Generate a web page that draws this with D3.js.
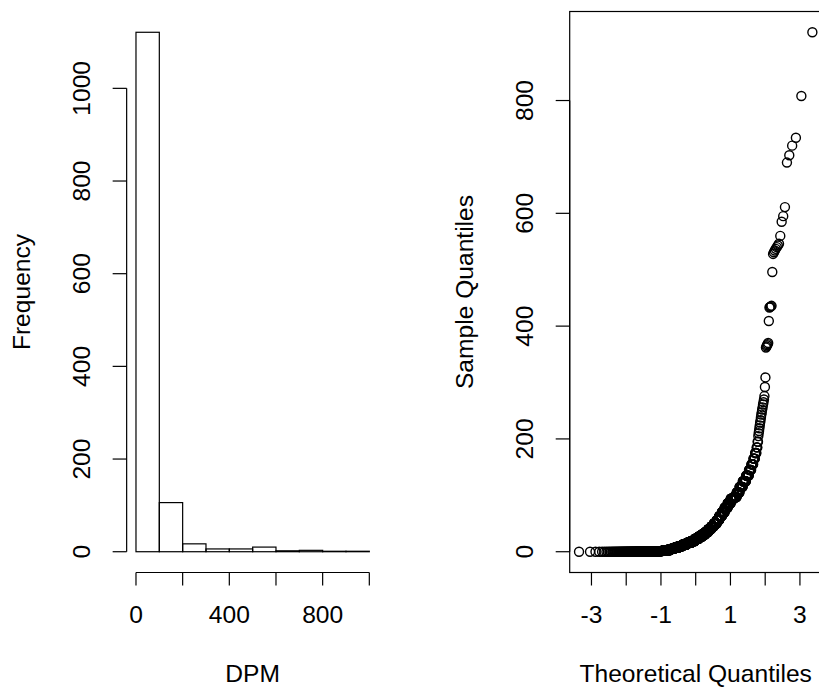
<!DOCTYPE html>
<html>
<head>
<meta charset="utf-8">
<script src="https://cdn.jsdelivr.net/npm/d3@7"></script>
<style>
  body { margin: 0; background: #fff; }
  svg text { font-family: "Liberation Sans", Arial, sans-serif; font-size: 24.6px; fill: #000; }
</style>
</head>
<body>
<svg id="chart" width="819" height="689"></svg>
<script>
// histogram of DPM
const histBreaks = [0, 100, 200, 300, 400, 500, 600, 700, 800, 900, 1000];
const histCounts = [1121, 106, 17, 6, 6, 10, 2, 3, 1, 1];
const histXTicks = [0, 200, 400, 600, 800, 1000];
const histXLabels = [0, 400, 800];
const histYTicks = [0, 200, 400, 600, 800, 1000];

// normal QQ plot: DPM sample as a frequency table (body) plus single tail values
const qqBodyValues = [0, 1, 2, 3, 5, 7, 10, 13, 16, 19, 23, 27, 31, 35, 40, 45, 50, 56, 63, 70, 78, 86, 94, 97,
                      105, 115, 125, 135, 145, 155, 165, 175, 185, 195];
const qqBodyCounts = [150, 60, 45, 40, 45, 50, 60, 60, 60, 55, 55, 50, 45, 40, 40, 35, 35, 30, 30, 30, 30, 28, 26, 22,
                      20, 20, 18, 14, 10, 8, 6, 5, 3, 2];
const qqTailValues = [205, 210, 214, 219, 224, 229, 233, 238, 243, 247, 252, 256, 261, 265, 270, 276, 292,
                      309, 362, 364, 366, 368, 370,
                      409, 433, 434, 435, 436, 496,
                      528, 531, 534, 537, 540, 543, 546, 560, 585, 595,
                      611, 690, 703, 720, 734, 808, 921];
const qqXTicks = [-3, -2, -1, 0, 1, 2, 3];
const qqXLabels = [-3, -1, 1, 3];
const qqYTicks = [0, 200, 400, 600, 800];

const svg = d3.select("#chart");
const plotTop = 11.5, plotBottom = 572.5;
const tickLen = 14;

// inverse normal CDF (Acklam)
function qnorm(p) {
  const a = [-3.969683028665376e+01, 2.209460984245205e+02, -2.759285104469687e+02, 1.383577518672690e+02, -3.066479806614716e+01, 2.506628277459239e+00];
  const b = [-5.447609879822406e+01, 1.615858368580409e+02, -1.556989798598866e+02, 6.680131188771972e+01, -1.328068155288572e+01];
  const c = [-7.784894002430293e-03, -3.223964580411365e-01, -2.400758277161838e+00, -2.549732539343734e+00, 4.374664141464968e+00, 2.938163982698783e+00];
  const d = [7.784695709041462e-03, 3.224671290700398e-01, 2.445134137142996e+00, 3.754408661907416e+00];
  const plow = 0.02425;
  let q, r;
  if (p < plow) {
    q = Math.sqrt(-2 * Math.log(p));
    return (((((c[0]*q+c[1])*q+c[2])*q+c[3])*q+c[4])*q+c[5]) / ((((d[0]*q+d[1])*q+d[2])*q+d[3])*q+1);
  }
  if (p > 1 - plow) {
    q = Math.sqrt(-2 * Math.log(1 - p));
    return -(((((c[0]*q+c[1])*q+c[2])*q+c[3])*q+c[4])*q+c[5]) / ((((d[0]*q+d[1])*q+d[2])*q+d[3])*q+1);
  }
  q = p - 0.5; r = q * q;
  return (((((a[0]*r+a[1])*r+a[2])*r+a[3])*r+a[4])*r+a[5])*q / (((((b[0]*r+b[1])*r+b[2])*r+b[3])*r+b[4])*r+1);
}

// R style 4% axis extension
const ext = ([lo, hi]) => [lo - 0.04 * (hi - lo), hi + 0.04 * (hi - lo)];

function yAxisR(g, y, ticks, axisX) {
  const ax = g.append("g").attr("transform", `translate(${axisX},0)`);
  ax.append("line")
    .attr("x1", 0).attr("x2", 0)
    .attr("y1", y(ticks[0])).attr("y2", y(ticks[ticks.length - 1]))
    .attr("stroke", "#000").attr("stroke-width", 1.2);
  const t = ax.selectAll(".tick").data(ticks).enter().append("g")
    .attr("transform", d => `translate(0,${y(d)})`);
  t.append("line").attr("x1", -tickLen).attr("x2", 0).attr("stroke", "#000").attr("stroke-width", 1.2);
  t.append("text")
    .attr("transform", "rotate(-90)")
    .attr("x", 0).attr("y", -36.5)
    .attr("text-anchor", "middle")
    .text(d => d);
}

function xAxisR(g, x, ticks, labels, axisY) {
  const ax = g.append("g").attr("transform", `translate(0,${axisY})`);
  ax.append("line")
    .attr("y1", 0).attr("y2", 0)
    .attr("x1", x(ticks[0])).attr("x2", x(ticks[ticks.length - 1]))
    .attr("stroke", "#000").attr("stroke-width", 1.2);
  const t = ax.selectAll(".tick").data(ticks).enter().append("g")
    .attr("transform", d => `translate(${x(d)},0)`);
  t.append("line").attr("y1", 0).attr("y2", 13).attr("stroke", "#000").attr("stroke-width", 1.2);
  t.filter(d => labels.includes(d)).append("text")
    .attr("y", 50.5)
    .attr("text-anchor", "middle")
    .text(d => d);
}

// ---- left: histogram ----
const hx = d3.scaleLinear().domain(ext([histBreaks[0], histBreaks[histBreaks.length - 1]])).range([126.65, 378.65]);
const hy = d3.scaleLinear().domain(ext([0, d3.max(histCounts)])).range([plotBottom, plotTop]);
const hg = svg.append("g");

hg.selectAll("rect.bar")
  .data(histCounts)
  .enter().append("rect")
  .attr("class", "bar")
  .attr("x", (d, i) => hx(histBreaks[i]))
  .attr("width", (d, i) => hx(histBreaks[i + 1]) - hx(histBreaks[i]))
  .attr("y", d => hy(d))
  .attr("height", d => hy(0) - hy(d))
  .attr("fill", "none")
  .attr("stroke", "#000")
  .attr("stroke-width", 1.2);

yAxisR(hg, hy, histYTicks, hx.range()[0]);
xAxisR(hg, hx, histXTicks, histXLabels, plotBottom);

hg.append("text")
  .attr("x", (hx.range()[0] + hx.range()[1]) / 2).attr("y", 682)
  .attr("text-anchor", "middle").text("DPM");
hg.append("text")
  .attr("transform", `translate(${hx.range()[0] - 96.5},${(plotTop + plotBottom) / 2}) rotate(-90)`)
  .attr("text-anchor", "middle").text("Frequency");

// ---- right: normal QQ plot ----
const sample = qqBodyValues.flatMap((v, i) => Array(qqBodyCounts[i]).fill(v))
  .concat(qqTailValues).sort((a, b) => a - b);
const n = sample.length;
const aOff = n <= 10 ? 3 / 8 : 1 / 2;
const qq = sample.map((v, i) => ({ t: qnorm((i + 1 - aOff) / (n + 1 - 2 * aOff)), v }));

const qx = d3.scaleLinear().domain(ext(d3.extent(qq, d => d.t))).range([569.7, 821.7]);
const qy = d3.scaleLinear().domain(ext(d3.extent(qq, d => d.v))).range([plotBottom, plotTop]);
const qg = svg.append("g");

qg.selectAll("circle")
  .data(qq)
  .enter().append("circle")
  .attr("cx", d => qx(d.t))
  .attr("cy", d => qy(d.v))
  .attr("r", 4.5)
  .attr("fill", "none")
  .attr("stroke", "#000")
  .attr("stroke-width", 1.4);

qg.append("rect")
  .attr("x", qx.range()[0]).attr("y", plotTop)
  .attr("width", qx.range()[1] - qx.range()[0])
  .attr("height", plotBottom - plotTop)
  .attr("fill", "none").attr("stroke", "#000").attr("stroke-width", 1.2);

yAxisR(qg, qy, qqYTicks, qx.range()[0]);
xAxisR(qg, qx, qqXTicks, qqXLabels, plotBottom);

qg.append("text")
  .attr("x", (qx.range()[0] + qx.range()[1]) / 2).attr("y", 682)
  .attr("text-anchor", "middle").text("Theoretical Quantiles");
qg.append("text")
  .attr("transform", `translate(${qx.range()[0] - 96.5},${(plotTop + plotBottom) / 2}) rotate(-90)`)
  .attr("text-anchor", "middle").text("Sample Quantiles");
</script>
</body>
</html>
